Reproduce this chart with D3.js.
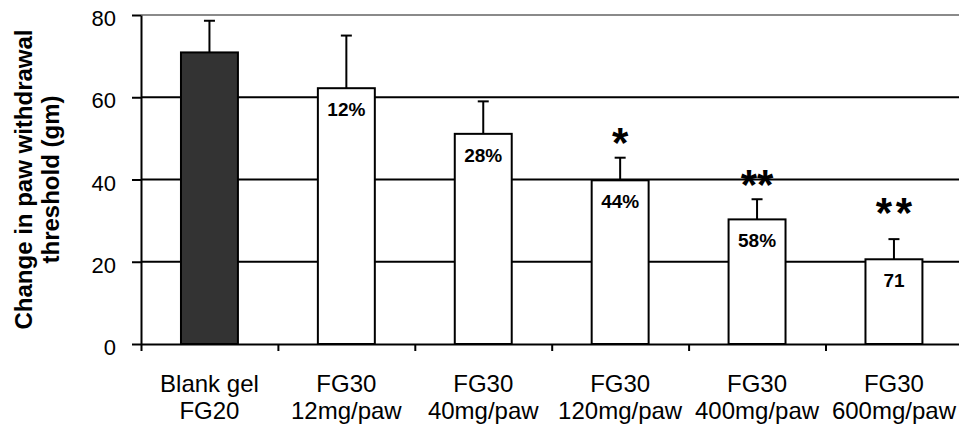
<!DOCTYPE html>
<html>
<head>
<meta charset="utf-8">
<script src="https://cdn.jsdelivr.net/npm/d3@7"></script>
<style>
  body { margin: 0; background: #fff; }
  text { font-family: "Liberation Sans", Arial, sans-serif; fill: #000; }
</style>
</head>
<body>
<div id="chart"></div>
<script>
// Podatki (odčitani s slike)
const groups = ["Blank gel", "FG30", "FG30", "FG30", "FG30", "FG30"];
const doses = ["FG20", "12mg/paw", "40mg/paw", "120mg/paw", "400mg/paw", "600mg/paw"];
const means = [70.9, 62.2, 51.1, 39.8, 30.3, 20.6];
const errors = [7.7, 12.8, 7.9, 5.5, 4.9, 4.9];
const barLabels = ["", "12%", "28%", "44%", "58%", "71"];
const signif = ["", "", "", "*", "**", "*\u200A*"];
const signifAt = [0, 0, 0, 51.3, 41.1, 34.3];   // višina zvezdic v enotah osi
const yTicks = [0, 20, 40, 60, 80];

const width = 959;
const height = 426;
const margin = { top: 15, left: 141, bottom: 82 };
const plotRight = 962.4;

const svg = d3.select("#chart")
    .append("svg")
    .attr("width", width)
    .attr("height", height);

const idx = d3.range(means.length);

// Lestvici
const x = d3.scaleBand()
    .domain(idx)
    .range([margin.left, plotRight])
    .paddingInner(0.584)
    .paddingOuter(0.292);

const xEdge = d3.scaleLinear()
    .domain([0, means.length])
    .range([margin.left, plotRight]);

const y = d3.scaleLinear()
    .domain([0, 80])
    .range([height - margin.bottom, margin.top]);

// Mrežne črte
svg.append("g")
    .selectAll("line")
    .data(yTicks.filter(d => d > 0))
    .enter()
    .append("line")
    .attr("x1", margin.left)
    .attr("x2", plotRight)
    .attr("y1", d => y(d))
    .attr("y2", d => y(d))
    .attr("stroke", d => d === 80 ? "#8a8a8a" : "#000")
    .attr("stroke-width", 2);

// y os
const yAxis = svg.append("g")
    .attr("transform", `translate(${margin.left},0)`)
    .call(d3.axisLeft(y).tickValues(yTicks).tickSize(9).tickSizeOuter(0).tickPadding(16));
yAxis.select(".domain").attr("stroke-width", 2);
yAxis.selectAll(".tick line").attr("stroke-width", 2);
yAxis.selectAll(".tick text")
    .attr("dy", "10.5px")
    .style("font-size", "22px");

// x os (oznake med kategorijami)
const xAxis = svg.append("g")
    .attr("transform", `translate(0,${y(0)})`)
    .call(d3.axisBottom(xEdge).tickValues(d3.range(means.length + 1)).tickSize(7).tickSizeOuter(0).tickFormat(""));
xAxis.select(".domain").attr("stroke-width", 2);
xAxis.selectAll(".tick line").attr("stroke-width", 2);

// Stolpci
svg.selectAll(".bar")
    .data(idx)
    .enter()
    .append("rect")
    .attr("class", "bar")
    .attr("x", i => x(i))
    .attr("y", i => y(means[i]))
    .attr("width", x.bandwidth())
    .attr("height", i => y(0) - y(means[i]))
    .attr("fill", i => i === 0 ? "#333333" : "#fff")
    .attr("stroke", "#000")
    .attr("stroke-width", 2);

// Napake
const err = svg.append("g").attr("stroke", "#000").attr("stroke-width", 2);
idx.forEach(i => {
    const cx = x(i) + x.bandwidth() / 2;
    err.append("line")
        .attr("x1", cx).attr("x2", cx)
        .attr("y1", y(means[i])).attr("y2", y(means[i] + errors[i]));
    err.append("line")
        .attr("x1", cx - 5.5).attr("x2", cx + 5.5)
        .attr("y1", y(means[i] + errors[i])).attr("y2", y(means[i] + errors[i]));
});

// Besedila v stolpcih
svg.selectAll(".blabel")
    .data(idx.filter(i => barLabels[i]))
    .enter()
    .append("text")
    .attr("x", i => x(i) + x.bandwidth() / 2)
    .attr("y", i => y(means[i]) + 28)
    .attr("text-anchor", "middle")
    .style("font-size", "19px")
    .style("font-weight", "bold")
    .text(i => barLabels[i]);

// Zvezdice
svg.selectAll(".sig")
    .data(idx.filter(i => signif[i]))
    .enter()
    .append("text")
    .attr("x", i => x(i) + x.bandwidth() / 2)
    .attr("y", i => y(signifAt[i]) + 24)
    .attr("text-anchor", "middle")
    .style("font-size", "42px")
    .style("font-weight", "bold")
    .text(i => signif[i]);

// Imena kategorij
const cat = svg.selectAll(".cat")
    .data(idx)
    .enter()
    .append("text")
    .attr("text-anchor", "middle")
    .style("font-size", "24px");
cat.append("tspan")
    .attr("x", i => x(i) + x.bandwidth() / 2)
    .attr("y", 391.5)
    .text(i => groups[i]);
cat.append("tspan")
    .attr("x", i => x(i) + x.bandwidth() / 2)
    .attr("y", 418.5)
    .text(i => doses[i]);

// Naslov y osi
const title = svg.append("text")
    .attr("transform", `translate(0,${(y(0) + y(80)) / 2}) rotate(-90)`)
    .attr("text-anchor", "middle")
    .style("font-size", "24px")
    .style("font-weight", "bold");
title.append("tspan").attr("x", 0).attr("y", 32).text("Change in paw withdrawal");
title.append("tspan").attr("x", 0).attr("y", 59).text("threshold (gm)");
</script>
</body>
</html>
